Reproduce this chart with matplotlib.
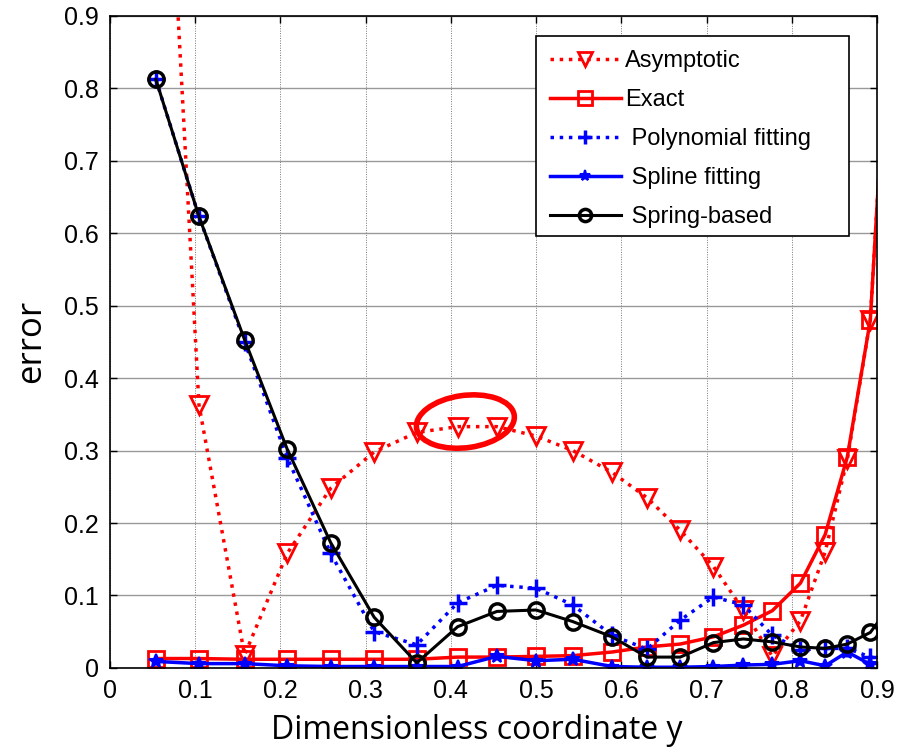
import matplotlib
matplotlib.use("Agg")
import matplotlib.pyplot as plt
from matplotlib.patches import Ellipse, Rectangle

# sample positions along the dimensionless coordinate (last one lies beyond the axis)
y_pos = [0.054, 0.1045, 0.158, 0.208, 0.259, 0.310, 0.360, 0.408, 0.454, 0.500,
         0.543, 0.589, 0.630, 0.669, 0.708, 0.743, 0.777, 0.810, 0.839, 0.865,
         0.892, 0.918]

err_asymptotic = [1.47, 0.363, 0.018, 0.158, 0.248, 0.298, 0.325, 0.333, 0.333, 0.320,
                  0.300, 0.270, 0.235, 0.190, 0.140, 0.080, 0.016, 0.065, 0.160, 0.288,
                  0.480, 1.00]
err_exact = [0.013, 0.013, 0.012, 0.012, 0.012, 0.012, 0.012, 0.015, 0.015, 0.016,
             0.017, 0.022, 0.029, 0.033, 0.043, 0.059, 0.079, 0.117, 0.184, 0.291,
             0.480, 1.00]
err_poly = [0.812, 0.623, 0.450, 0.290, 0.158, 0.050, 0.032, 0.090, 0.114, 0.110,
            0.087, 0.045, 0.026, 0.066, 0.098, 0.087, 0.045, 0.025, 0.027, 0.027,
            0.015, 0.010]
err_spline = [0.009, 0.006, 0.006, 0.003, 0.002, 0.002, 0.002, 0.002, 0.016, 0.010,
              0.012, 0.002, 0.001, 0.001, 0.002, 0.004, 0.005, 0.010, 0.003, 0.022,
              0.005, 0.010]
err_spring = [0.812, 0.623, 0.453, 0.302, 0.173, 0.070, 0.007, 0.057, 0.078, 0.080,
              0.064, 0.043, 0.015, 0.015, 0.035, 0.040, 0.036, 0.029, 0.027, 0.033,
              0.049, 0.090]

x_ticks = [0, 0.1, 0.2, 0.3, 0.4, 0.5, 0.6, 0.7, 0.8, 0.9]
y_ticks = [0, 0.1, 0.2, 0.3, 0.4, 0.5, 0.6, 0.7, 0.8, 0.9]

plt.rcParams['font.family'] = ['Liberation Sans', 'DejaVu Sans']

fig = plt.figure(figsize=(9.08, 7.48), dpi=100)
ax = fig.add_axes([0.121, 0.107, 0.845, 0.872])

ax.plot(y_pos, err_asymptotic, color='red', linestyle=':', linewidth=2.5,
        marker='v', markersize=13, markerfacecolor='none', markeredgewidth=2,
        label='Asymptotic')
ax.plot(y_pos, err_exact, color='red', linestyle='-', linewidth=2.5,
        marker='s', markersize=12, markerfacecolor='none', markeredgewidth=2,
        label='Exact')
ax.plot(y_pos, err_poly, color='blue', linestyle=':', linewidth=2.5,
        marker='+', markersize=13, markeredgewidth=2.5,
        label=' Polynomial fitting')
ax.plot(y_pos, err_spline, color='blue', linestyle='-', linewidth=2.5,
        marker='*', markersize=10, markeredgewidth=1.5,
        label=' Spline fitting')
ax.plot(y_pos, err_spring, color='black', linestyle='-', linewidth=2.2,
        marker='o', markersize=11, markerfacecolor='none', markeredgewidth=2.5,
        label=' Spring-based')

# highlight around the asymptotic maximum
ax.add_patch(Ellipse((0.417, 0.340), 0.116, 0.072, angle=10, fill=False,
                     edgecolor='red', linewidth=4, zorder=5))

ax.set_xlim(0, 0.9)
ax.set_ylim(0, 0.9)
ax.set_xticks(x_ticks)
ax.set_yticks(y_ticks)
ax.set_xticklabels([f'{t:g}' for t in x_ticks])
ax.set_yticklabels([f'{t:g}' for t in y_ticks])
ax.tick_params(direction='in', top=True, right=True, length=5, width=1,
               labelsize=18, pad=8)

ax.xaxis.grid(True, color='#777777', linestyle=(0, (1, 1.5)), linewidth=0.7)
ax.yaxis.grid(True, color='#999999', linestyle='-', linewidth=1.0)
ax.set_axisbelow(True)
for s in ax.spines.values():
    s.set_linewidth(1.2)

ax.set_xlabel('Dimensionless coordinate y', fontsize=23, family='Open Sans',
              labelpad=8)
ax.xaxis.label.set_x(0.478)
ax.set_ylabel('error', fontsize=25, family='Open Sans', labelpad=11)

# legend box drawn separately so it keeps the wider frame of the original
ax.add_patch(Rectangle((0.555, 0.6626), 0.4085, 0.3064, transform=ax.transAxes,
                       facecolor='white', edgecolor='black', linewidth=1.2,
                       zorder=4.5))
leg = ax.legend(loc='upper left', bbox_to_anchor=(0.555, 0.969), fontsize=17,
                frameon=False, handlelength=3.0, handletextpad=0.2,
                borderpad=0.1, labelspacing=0.72, markerscale=0.8)

fig.savefig('out.png', dpi=100)
